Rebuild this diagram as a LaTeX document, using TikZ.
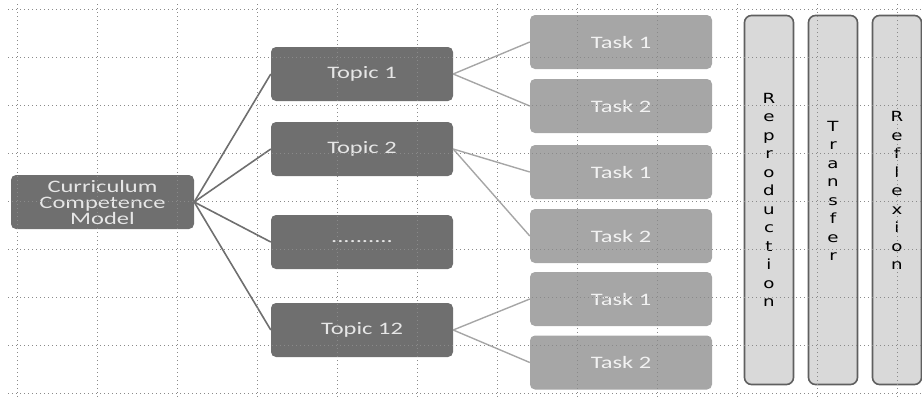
\documentclass[tikz,border=0pt]{standalone}
\usepackage{fontspec}
\setmainfont{Carlito}
\newfontfamily\widefont[FakeStretch=1.4]{Carlito}
\newfontfamily\letterfont[FakeStretch=1.3]{DejaVu Sans}
\usepackage{xcolor}
\usetikzlibrary{positioning}

\definecolor{topicgray}{HTML}{6F6F6F}
\definecolor{taskgray}{HTML}{A6A6A6}
\definecolor{colfill}{HTML}{D9D9D9}
\definecolor{coldraw}{HTML}{5F5F5F}
\definecolor{gridgray}{HTML}{8A8A8A}
\definecolor{txtlight}{HTML}{E6E6E6}

\begin{document}
\begin{tikzpicture}[x=1pt, y=-1pt,
    every node/.style={font=\widefont\fontsize{17.5}{16}\selectfont},
    topic/.style={fill=topicgray, rounded corners=5pt, minimum width=182pt, minimum height=54pt, inner sep=0pt, text=txtlight, align=center},
    task/.style={topic, fill=taskgray, text=white!95!black},
    level/.style={draw=coldraw, line width=1.6pt, fill=colfill, rounded corners=7pt, minimum width=49pt, minimum height=369pt, inner sep=0pt},
    letters/.style={align=center, text=black, font=\letterfont\fontsize{14}{18.5}\selectfont},
    branch/.style={draw=topicgray, line width=1.6pt},
    leaf/.style={draw=taskgray, line width=1.4pt},
    gridline/.style={draw=gridgray, line width=0.7pt, dash pattern=on 0.8pt off 3.2pt},
]
\useasboundingbox (0,0) rectangle (922,397);

% root and topics
\node[topic, minimum width=183pt] (model) at (102.5,202) {Curriculum\\Competence\\Model};
\node[topic] (topic1) at (362,74) {Topic 1};
\node[topic] (topic2) at (362,149) {Topic 2};
\node[topic] (topicdots) at (362,242) {..........};
\node[topic] (topic12) at (362,330) {Topic 12};

% tasks
\node[task] (task1a) at (621,42) {Task 1};
\node[task] (task2a) at (621,106) {Task 2};
\node[task] (task1b) at (621,172) {Task 1};
\node[task] (task2b) at (621,236) {Task 2};
\node[task] (task1c) at (621,299) {Task 1};
\node[task] (task2c) at (621,362.5) {Task 2};

% levels
\node[level] (repro) at (769,200) {};
\node[level] (trans) at (833,200) {};
\node[level] (reflex) at (897,200) {};
\node[letters] (reprotext) at (repro.center) {R\\e\\p\\r\\o\\d\\u\\c\\t\\i\\o\\n};
\node[letters] (transtext) at ([yshift=9pt]trans.center) {T\\r\\a\\n\\s\\f\\e\\r};
\node[letters] (reflextext) at ([yshift=9.5pt]reflex.center) {R\\e\\f\\l\\e\\x\\i\\o\\n};

\draw[branch] (model.east) -- (topic1.west);
\draw[branch] (model.east) -- (topic2.west);
\draw[branch] (model.east) -- (topicdots.west);
\draw[branch] (model.east) -- (topic12.west);

\draw[leaf] (topic1.east) -- (task1a.west);
\draw[leaf] (topic1.east) -- (task2a.west);
\draw[leaf] (topic2.east) -- (task1b.west);
\draw[leaf] (topic2.east) -- (task2b.west);
\draw[leaf] (topic12.east) -- (task1c.west);
\draw[leaf] (topic12.east) -- (task2c.west);

% dotted grid on top
\foreach \gy in {9,57,...,393}
  \draw[gridline] (8,\gy) -- (922,\gy);
\foreach \gx in {17,97,...,897}
  \draw[gridline] (\gx,4) -- (\gx,397);
\end{tikzpicture}
\end{document}
